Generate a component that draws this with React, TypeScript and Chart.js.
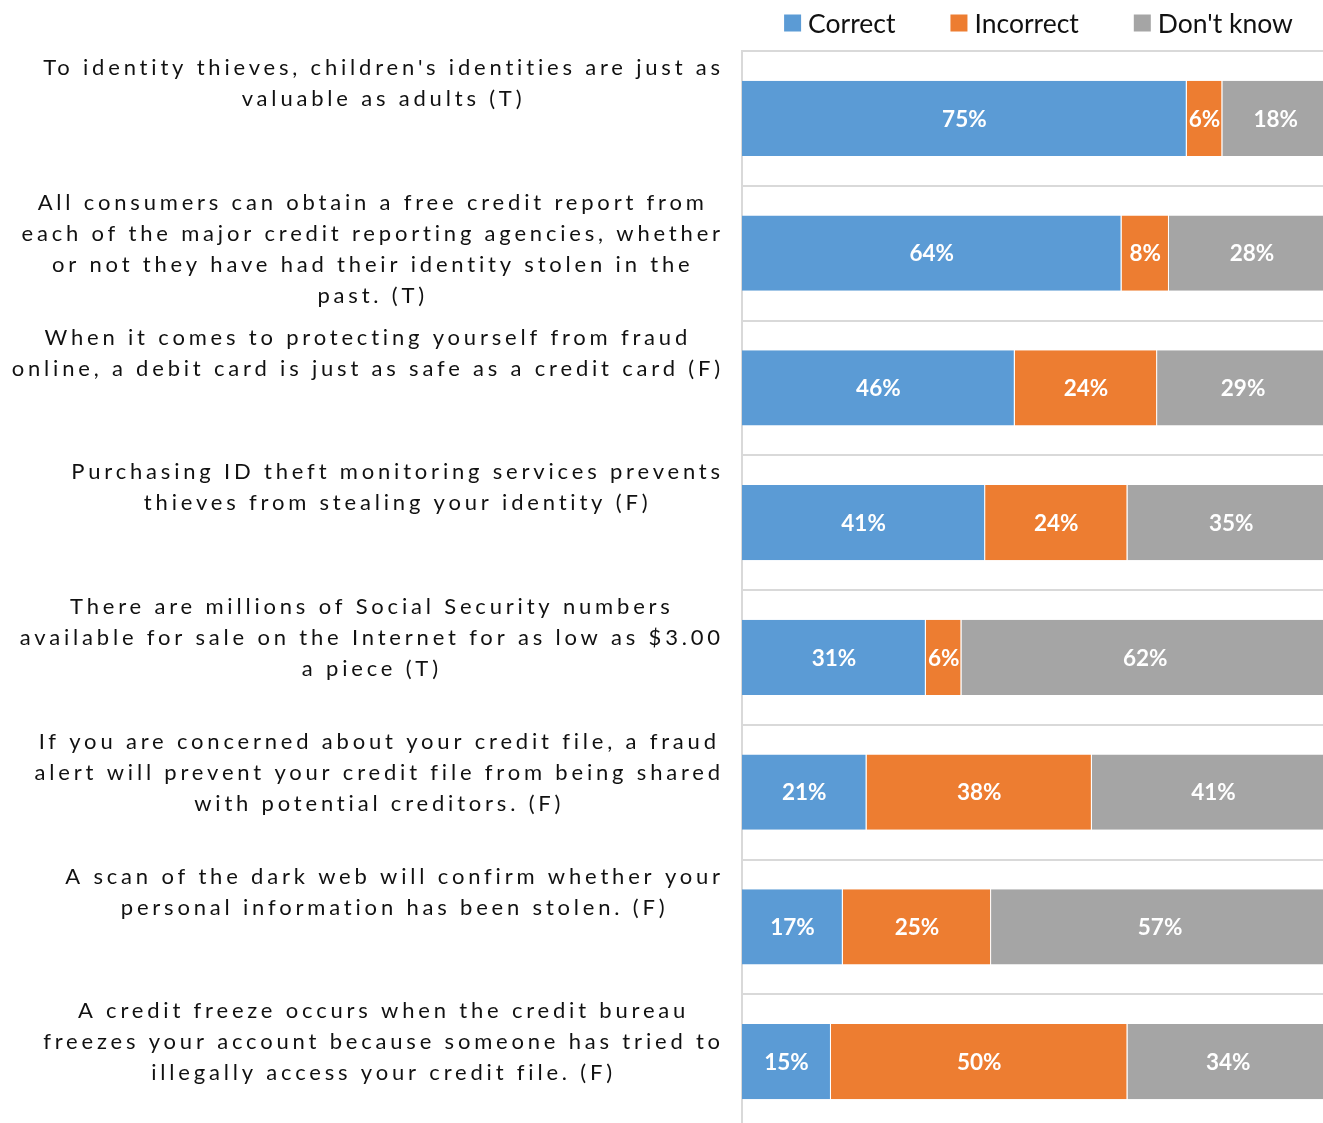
import React, { useEffect, useRef } from "react";
import { Chart, registerables } from "chart.js";

Chart.register(...registerables);

const categoryLines: string[][] = [
  ["To identity thieves, children's identities are just as", "valuable as adults (T)"],
  [
    "All consumers can obtain a free credit report from",
    "each of the major credit reporting agencies, whether",
    "or not they have had their identity stolen in the",
    "past. (T)",
  ],
  ["When it comes to protecting yourself from fraud", "online, a debit card is just as safe as a credit card (F)"],
  ["Purchasing ID theft monitoring services prevents", "thieves from stealing your identity (F)"],
  [
    "There are millions of Social Security numbers",
    "available for sale on the Internet for as low as $3.00",
    "a piece (T)",
  ],
  [
    "If you are concerned about your credit file, a fraud",
    "alert will prevent your credit file from being shared",
    "with potential creditors. (F)",
  ],
  ["A scan of the dark web will confirm whether your", "personal information has been stolen. (F)"],
  [
    "A credit freeze occurs when the credit bureau",
    "freezes your account because someone has tried to",
    "illegally access your credit file. (F)",
  ],
];

const seriesNames = ["Correct", "Incorrect", "Don't know"];
const correctValues = [75, 64, 46, 41, 31, 21, 17, 15];
const incorrectValues = [6, 8, 24, 24, 6, 38, 25, 50];
const dontKnowValues = [18, 28, 29, 35, 62, 41, 57, 34];
const seriesColors = ["#5B9BD5", "#ED7D31", "#A5A5A5"];

const FONT = "Lato, 'Open Sans', sans-serif";

const labelPlugin = {
  id: "leftLabels",
  afterDraw(chart: any) {
    const ctx = chart.ctx as CanvasRenderingContext2D;
    const area = chart.chartArea;
    const yScale = chart.scales.y;
    const n = categoryLines.length;
    const band = (area.bottom - area.top) / n;
    ctx.save();
    ctx.font = `22px ${FONT}`;
    (ctx as any).letterSpacing = "0px";
    const ref = "each of the major credit reporting agencies, whether";
    const w0 = ctx.measureText(ref).width;
    const spacing = Math.max(0, (699 - w0) / (ref.length - 1));
    (ctx as any).letterSpacing = `${spacing}px`;
    ctx.fillStyle = "#111";
    ctx.textBaseline = "middle";
    ctx.textAlign = "center";
    const rightEdge = area.left - 20;
    categoryLines.forEach((lines, i) => {
      const top = yScale.getPixelForValue(i) - band / 2;
      const widths = lines.map((l) => ctx.measureText(l).width);
      const blockW = Math.max(...widths);
      const cx = rightEdge - blockW / 2 + spacing / 2;
      lines.forEach((l, k) => {
        ctx.fillText(l, cx, top + 17 + k * 31);
      });
    });
    ctx.restore();
  },
};

const valueLabelPlugin = {
  id: "valueLabels",
  afterDatasetsDraw(chart: any) {
    const ctx = chart.ctx as CanvasRenderingContext2D;
    ctx.save();
    ctx.font = `bold 22.5px ${FONT}`;
    ctx.fillStyle = "#fff";
    ctx.textAlign = "center";
    ctx.textBaseline = "middle";
    chart.data.datasets.forEach((ds: any, di: number) => {
      const meta = chart.getDatasetMeta(di);
      meta.data.forEach((el: any, i: number) => {
        const p = el.getProps(["x", "base", "y"], true);
        ctx.fillText(`${ds.data[i]}%`, (p.x + p.base) / 2, p.y + 1);
      });
    });
    ctx.restore();
  },
};

const legendPlugin = {
  id: "customLegend",
  afterDraw(chart: any) {
    const ctx = chart.ctx as CanvasRenderingContext2D;
    const area = chart.chartArea;
    ctx.save();
    ctx.font = `26.5px ${FONT}`;
    const box = 17;
    const gapBox = 7;
    const gapItem = 55;
    const widths = seriesNames.map((s) => ctx.measureText(s).width);
    const total =
      widths.reduce((a, b) => a + b, 0) + seriesNames.length * (box + gapBox) + gapItem * (seriesNames.length - 1);
    let x = (area.left + area.right) / 2 - total / 2;
    const cy = 23;
    ctx.textBaseline = "middle";
    ctx.textAlign = "left";
    seriesNames.forEach((s, i) => {
      ctx.fillStyle = seriesColors[i];
      ctx.fillRect(x, cy - box / 2, box, box);
      ctx.fillStyle = "#111";
      ctx.fillText(s, x + box + gapBox, cy + 1);
      x += box + gapBox + widths[i] + gapItem;
    });
    ctx.restore();
  },
};

export default function App() {
  const canvasRef = useRef<HTMLCanvasElement | null>(null);

  useEffect(() => {
    if (!canvasRef.current) return;
    const valueSets = [correctValues, incorrectValues, dontKnowValues];
    const chart = new Chart(canvasRef.current, {
      type: "bar",
      data: {
        labels: categoryLines.map((l) => l.join(" ")),
        datasets: seriesNames.map((name, i) => ({
          label: name,
          data: valueSets[i],
          backgroundColor: seriesColors[i],
          borderColor: "#ffffff",
          borderWidth: { left: 0, right: 1, top: 0, bottom: 0 },
          borderSkipped: false,
          categoryPercentage: 1,
          barPercentage: 0.557,
        })),
      },
      options: {
        indexAxis: "y",
        responsive: false,
        animation: false,
        devicePixelRatio: 1,
        layout: { padding: { left: 742, right: 10, top: 51, bottom: 6 } },
        plugins: {
          legend: { display: false },
          tooltip: { enabled: false },
        },
        scales: {
          x: { stacked: true, min: 0, max: 100, display: false },
          y: {
            stacked: true,
            offset: true,
            ticks: { display: false },
            grid: { color: "#D9D9D9", lineWidth: 2, drawTicks: false, tickLength: 0, offset: true },
            border: { display: true, color: "#D9D9D9", width: 2 },
          },
        },
      } as any,
      plugins: [labelPlugin, valueLabelPlugin, legendPlugin],
    });
    return () => chart.destroy();
  }, []);

  return (
    <div
      style={{
        position: "absolute",
        left: 0,
        top: 0,
        width: 1323,
        height: 1123,
        overflow: "hidden",
        background: "#fff",
      }}
    >
      <canvas ref={canvasRef} width={1345} height={1135} style={{ width: 1345, height: 1135, display: "block" }} />
    </div>
  );
}
